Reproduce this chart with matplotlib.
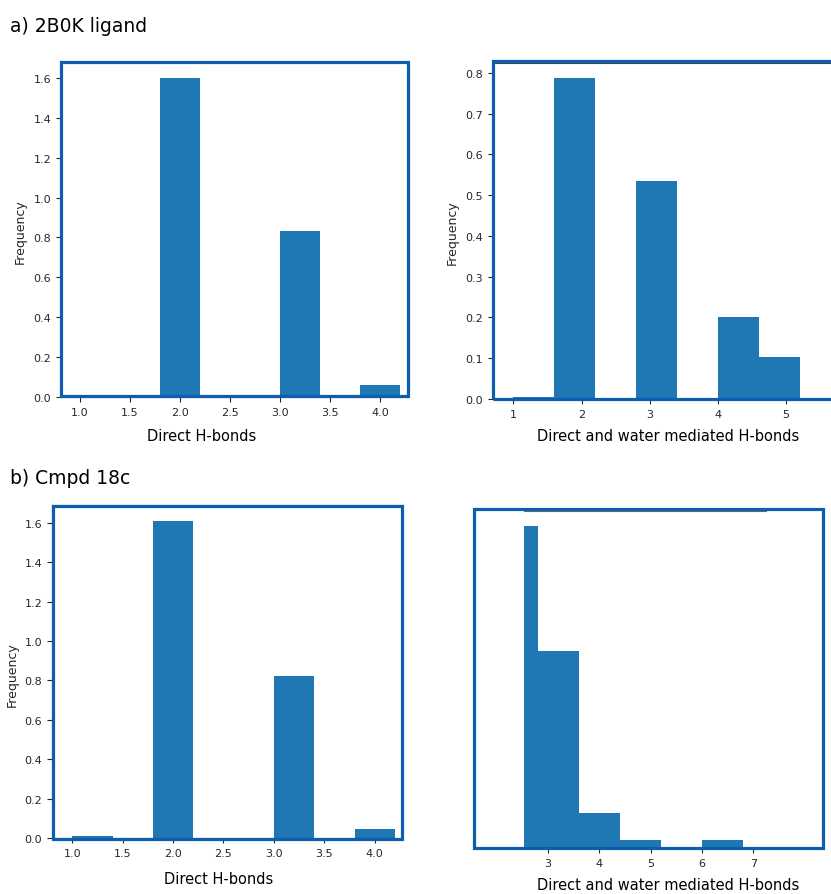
import matplotlib
matplotlib.use('Agg')
import matplotlib.pyplot as plt
from matplotlib.patches import Rectangle

W, H = 831, 895

# histogram data (bin edges and densities)
a_direct_edges = [1.0, 1.4, 1.8, 2.2, 2.6, 3.0, 3.4, 3.8, 4.2]
a_direct_freq = [0.0, 0.0, 1.60, 0.0, 0.0, 0.83, 0.0, 0.06]

a_water_edges = [1.0, 1.6, 2.2, 2.8, 3.4, 4.0, 4.6, 5.2]
a_water_freq = [0.004, 0.787, 0.0, 0.535, 0.0, 0.202, 0.103]

b_direct_edges = [1.0, 1.4, 1.8, 2.2, 2.6, 3.0, 3.4, 3.8, 4.2]
b_direct_freq = [0.01, 0.0, 1.61, 0.0, 0.0, 0.82, 0.0, 0.045]

b_water_edges = [2.0, 2.8, 3.6, 4.4, 5.2, 6.0, 6.8]
b_water_freq = [0.706, 0.432, 0.077, 0.018, 0.0, 0.018]

direct_ticks = [1.0, 1.5, 2.0, 2.5, 3.0, 3.5, 4.0]
a_water_ticks = [1, 2, 3, 4, 5]
b_water_ticks = [3, 4, 5, 6, 7]

BAR = '#1f77b4'
FRAME = '#0b5fae'
TICK_COLOR = '#262626'


def px_axes(fig, x0, y0, x1, y1):
    # axes from pixel box (top-left origin)
    return fig.add_axes([x0 / W, 1 - y1 / H, (x1 - x0) / W, (y1 - y0) / H])


def frame(fig, x0, y0, x1, y1):
    fig.add_artist(Rectangle((x0 / W, 1 - y1 / H), (x1 - x0) / W, (y1 - y0) / H,
                             transform=fig.transFigure, fill=False,
                             edgecolor=FRAME, linewidth=2.3, zorder=10))


def hist_bars(ax, edges, freq):
    widths = [edges[i + 1] - edges[i] for i in range(len(freq))]
    ax.bar(edges[:-1], freq, width=widths, align='edge', color=BAR, linewidth=0)


def style(ax):
    ax.tick_params(labelsize=8, colors=TICK_COLOR, length=3.5, width=0.8)
    for s in ax.spines.values():
        s.set_color('#444444')
        s.set_linewidth(0.8)


fig = plt.figure(figsize=(W / 100, H / 100), dpi=100)

# a) left
ax1 = px_axes(fig, 61, 63, 408, 398)
hist_bars(ax1, a_direct_edges, a_direct_freq)
ax1.set_xlim(0.81, 4.28)
ax1.set_ylim(0, 1.68)
ax1.set_xticks(direct_ticks)
ax1.set_yticks([0.0, 0.2, 0.4, 0.6, 0.8, 1.0, 1.2, 1.4, 1.6])
style(ax1)
frame(fig, 61, 63, 408, 397)

# a) right (cropped on the right side)
ax2 = px_axes(fig, 493, 64, 943, 400)
hist_bars(ax2, a_water_edges, a_water_freq)
ax2.set_xlim(0.7, 7.3)
ax2.set_ylim(0, 0.8245)
ax2.set_xticks(a_water_ticks)
ax2.set_yticks([0.0, 0.1, 0.2, 0.3, 0.4, 0.5, 0.6, 0.7, 0.8])
style(ax2)
frame(fig, 493, 62, 900, 400)

# b) left
ax3 = px_axes(fig, 52, 506, 402, 839)
hist_bars(ax3, b_direct_edges, b_direct_freq)
ax3.set_xlim(0.80, 4.27)
ax3.set_ylim(0, 1.69)
ax3.set_xticks(direct_ticks)
ax3.set_yticks([0.0, 0.2, 0.4, 0.6, 0.8, 1.0, 1.2, 1.4, 1.6])
style(ax3)
frame(fig, 53, 507, 402, 840)

# b) right (y axis cropped away)
ax4 = px_axes(fig, 524, 512, 766, 849)
hist_bars(ax4, b_water_edges, b_water_freq)
ax4.set_xlim(2.53, 7.25)
ax4.set_ylim(0, 0.74)
ax4.set_xticks(b_water_ticks)
ax4.set_yticks([])
style(ax4)
for side in ['left', 'right', 'bottom']:
    ax4.spines[side].set_visible(False)
ax4.spines['top'].set_color('#666666')
frame(fig, 474, 510, 823, 849)

# labels
def ftext(x, y, s, **kw):
    fig.text(x / W, 1 - y / H, s, **kw)

ftext(10, 26, 'a) 2B0K ligand', fontsize=13.5, va='center', ha='left')
ftext(10, 479, 'b) Cmpd 18c', fontsize=13.5, va='center', ha='left')

ftext(202, 437, 'Direct H-bonds', fontsize=10.5, ha='center', va='center')
ftext(668, 437, 'Direct and water mediated H-bonds', fontsize=10.5, ha='center', va='center')
ftext(219, 880, 'Direct H-bonds', fontsize=10.5, ha='center', va='center')
ftext(668, 886, 'Direct and water mediated H-bonds', fontsize=10.5, ha='center', va='center')

ftext(20, 232, 'Frequency', fontsize=9, rotation=90, ha='center', va='center', color=TICK_COLOR)
ftext(452, 233, 'Frequency', fontsize=9, rotation=90, ha='center', va='center', color=TICK_COLOR)
ftext(12, 675, 'Frequency', fontsize=9, rotation=90, ha='center', va='center', color=TICK_COLOR)

fig.savefig('out.png', dpi=100)
